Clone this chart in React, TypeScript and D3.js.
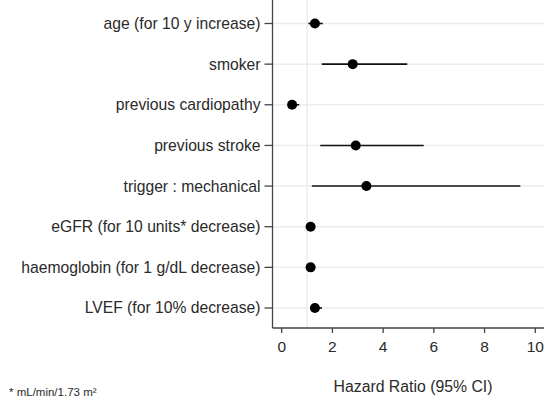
import React from "react";
import * as d3 from "d3";

const categories = [
  "age (for 10 y increase)",
  "smoker",
  "previous cardiopathy",
  "previous stroke",
  "trigger : mechanical",
  "eGFR (for 10 units* decrease)",
  "haemoglobin (for 1 g/dL decrease)",
  "LVEF (for 10% decrease)",
];
const hr = [1.31, 2.8, 0.41, 2.92, 3.34, 1.14, 1.14, 1.31];
const lower = [1.05, 1.58, 0.29, 1.52, 1.19, 1.06, 1.07, 1.12];
const upper = [1.62, 4.95, 0.69, 5.6, 9.41, 1.23, 1.22, 1.59];
const xTicks = [0, 2, 4, 6, 8, 10];

const W = 550;
const H = 400;
const left = 272.5;
const right = 544;
const top = 0;
const bottom = 328;

export default function App() {
  const x = d3.scaleLinear().domain([0, 10]).range([281.7, 535.3]);
  const y = d3
    .scalePoint<string>()
    .domain(categories)
    .range([23.5, 308]);
  const font = "Arial, 'Liberation Sans', Helvetica, sans-serif";
  const txt = "#2a2a2a";
  return (
    <svg
      width={W}
      height={H}
      style={{ position: "absolute", left: 0, top: 0, background: "#fff" }}
      fontFamily={font}
    >
      {/* gridlines */}
      {categories.map((c) => (
        <line key={"g" + c} x1={left} x2={right} y1={y(c)} y2={y(c)} stroke="#ececec" strokeWidth={1.5} />
      ))}
      <line x1={x(1)} x2={x(1)} y1={top} y2={bottom} stroke="#ececec" strokeWidth={1.5} />
      {/* axes */}
      <line x1={left} x2={left} y1={top} y2={bottom} stroke="#444" strokeWidth={1.3} />
      <line x1={left} x2={right} y1={bottom} y2={bottom} stroke="#444" strokeWidth={1.3} />
      {categories.map((c) => (
        <g key={"t" + c}>
          <line x1={left - 8} x2={left} y1={y(c)} y2={y(c)} stroke="#444" strokeWidth={1.3} />
          <text x={left - 12} y={y(c)} dy="0.35em" textAnchor="end" fontSize={15.7} fill={txt}>
            {c}
          </text>
        </g>
      ))}
      {xTicks.map((t) => (
        <g key={"x" + t}>
          <line x1={x(t)} x2={x(t)} y1={bottom} y2={bottom + 5} stroke="#444" strokeWidth={1.3} />
          <text x={x(t)} y={346.5} dy="0.35em" textAnchor="middle" fontSize={15.5} fill={txt}>
            {t}
          </text>
        </g>
      ))}
      <text x={413} y={386.5} dy="0.35em" textAnchor="middle" fontSize={15.8} fill={txt}>
        Hazard Ratio (95% CI)
      </text>
      <text x={9} y={392} dy="0.35em" fontSize={11.5} fill={txt}>
        * mL/min/1.73 m²
      </text>
      {/* CIs and points */}
      {categories.map((c, i) => (
        <g key={"d" + c}>
          <line x1={x(lower[i])} x2={x(upper[i])} y1={y(c)} y2={y(c)} stroke="#111" strokeWidth={1.6} />
          <circle cx={x(hr[i])} cy={y(c)} r={5} fill="#000" />
        </g>
      ))}
    </svg>
  );
}
